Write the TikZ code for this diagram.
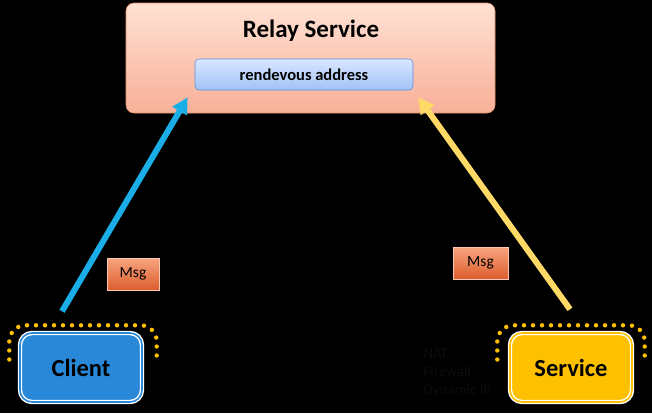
\documentclass[tikz,border=0pt]{standalone}
\usepackage{fontspec}
\setmainfont{Carlito}
\usetikzlibrary{arrows.meta,calc}
\definecolor{relaytop}{HTML}{FFE1D3}
\definecolor{relaybot}{HTML}{F8B098}
\definecolor{relayline}{HTML}{E0916C}
\definecolor{addrtop}{HTML}{D8E7FF}
\definecolor{addrbot}{HTML}{A2C2F6}
\definecolor{addrline}{HTML}{5F8FDC}
\definecolor{msgtop}{HTML}{F7A47E}
\definecolor{msgbot}{HTML}{DD5E2E}
\definecolor{clientblue}{HTML}{2A88D8}
\definecolor{serviceyellow}{HTML}{FFC000}
\definecolor{arrowblue}{HTML}{1AAEE8}
\definecolor{arrowyellow}{HTML}{FFD966}
\definecolor{ghost}{HTML}{0C0C0C}

\begin{document}
\begin{tikzpicture}[x=1pt, y=-1pt,
  relaybox/.style={rounded corners=8pt, top color=relaytop, bottom color=relaybot,
    draw=relayline, line width=0.6pt, minimum width=369pt, minimum height=110pt},
  addrbox/.style={rounded corners=4pt, top color=addrtop, bottom color=addrbot,
    draw=addrline, line width=0.6pt, minimum width=218pt, minimum height=31pt,
    font=\bfseries\fontsize{16.5}{18}\selectfont},
  msgbox/.style={top color=msgtop, bottom color=msgbot, draw=msgtop!60!white,
    line width=0.6pt, minimum height=32pt, font=\fontsize{15.5}{17}\selectfont},
  endbox/.style={rounded corners=12pt, draw=white, double distance=1.6pt,
    line width=1.4pt, minimum width=122pt, minimum height=69pt,
    font=\bfseries\fontsize{24.5}{27}\selectfont},
  dots/.style={serviceyellow, line width=4.4pt, line cap=round,
    dash pattern=on 0pt off 9pt, rounded corners=16pt},
  link/.style={line width=6pt, -{Triangle[length=16pt,width=16pt]}}]
% background
\fill[black] (0,0) rectangle (652,413);
\useasboundingbox (0,0) rectangle (652,413);
% relay service
\node[relaybox] (relay) at (310.5,58) {};
\node[font=\bfseries\fontsize{25}{28}\selectfont] (title) at (311,31) {Relay Service};
\node[addrbox] (addr) at (304,74.5) {rendevous address};
% end points
\node[endbox, fill=clientblue, double=clientblue] (client) at (81,367.5) {Client};
\node[endbox, fill=serviceyellow, double=serviceyellow] (service) at (571,367.5) {Service};
\node[anchor=north west, align=left, text=ghost, font=\fontsize{15}{18}\selectfont]
  (hidden) at (420,345) {NAT\\Firewall\\Dynamic IP};
% dotted arcs
\draw[dots] ($(client.west)+(-10,-8)$) |- ($(client.north)+(0,-7)$) -| ($(client.east)+(14,-8)$);
\draw[dots] ($(service.west)+(-12,-8)$) |- ($(service.north)+(0,-7)$) -| ($(service.east)+(12,-8)$);
% messages
\node[msgbox, minimum width=52pt] (msgL) at (133,274) {Msg};
\node[msgbox, minimum width=55pt] (msgR) at (480.5,263) {Msg};
% connectors
\coordinate (cTail) at ($(client.north)+(-19,-21)$);
\coordinate (cHead) at ($(addr.south west)+(-7,7)$);
\coordinate (sTail) at ($(service.north)+(-1,-23)$);
\coordinate (sHead) at ($(addr.south east)+(5,7)$);
\draw[link, arrowblue] (cTail) -- (cHead);
\draw[link, arrowyellow] (sTail) -- (sHead);
\end{tikzpicture}
\end{document}
